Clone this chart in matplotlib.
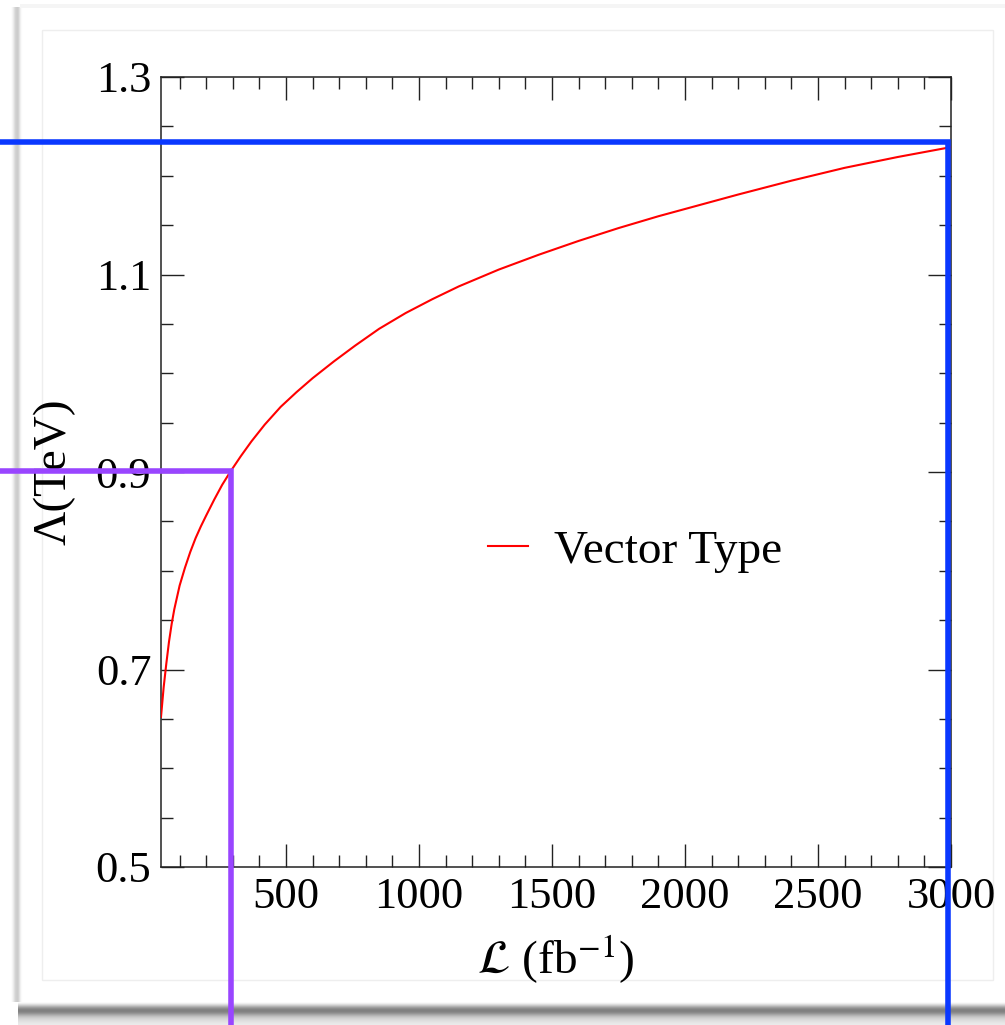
import numpy as np
import matplotlib.pyplot as plt
from matplotlib.patches import Rectangle
from matplotlib.ticker import MultipleLocator

plt.rcParams['font.family'] = ['Liberation Serif', 'DejaVu Serif']
plt.rcParams['mathtext.fontset'] = 'stix'

# curve: luminosity (fb^-1) vs reach Lambda (TeV)
lumi = [30, 35, 40, 45, 50, 60, 70, 80, 90, 100, 120, 140, 160, 180, 200,
        230, 260, 290, 330, 370, 420, 480, 540, 600, 680, 760, 850, 950,
        1050, 1150, 1300, 1450, 1600, 1750, 1900, 2050, 2200, 2400, 2600,
        2800, 3000]
lam = [0.652, 0.667, 0.682, 0.694, 0.706, 0.728, 0.746, 0.761, 0.773, 0.785,
       0.803, 0.819, 0.833, 0.845, 0.856, 0.872, 0.887, 0.900, 0.916, 0.931,
       0.948, 0.966, 0.981, 0.995, 1.012, 1.028, 1.045, 1.061, 1.075, 1.088,
       1.105, 1.120, 1.134, 1.147, 1.159, 1.170, 1.181, 1.195, 1.208, 1.219,
       1.229]

# guide lines (L, Lambda)
guide_purple = (293, 0.901)
guide_blue = (2990, 1.234)

W, H = 1005, 1025
fig = plt.figure(figsize=(W / 100, H / 100), dpi=100)

# page-like background with shadow
bg = fig.add_axes([0, 0, 1, 1], zorder=-5)
bg.set_xlim(0, W)
bg.set_ylim(H, 0)
bg.axis('off')
side = np.array([252, 245, 235, 222, 212, 206, 204, 210, 225, 240, 250, 254]) / 255.0
bg.imshow(np.tile(side[None, :], (20, 1)), cmap='gray', vmin=0, vmax=1,
          extent=(11, 23, 1002, 7), aspect='auto', zorder=1)
bg.add_patch(Rectangle((20, 4), W, 4, facecolor='#f5f5f5', edgecolor='none'))
bg.add_patch(Rectangle((42, 30), 951, 950, facecolor='none', edgecolor='#eeeeee', lw=1))
prof = np.array([250, 238, 220, 200, 178, 158, 142, 132, 128, 130, 138, 150,
                 165, 180, 192, 202, 210, 216, 221, 225, 229, 232, 234]) / 255.0
grad = np.tile(prof[:, None], (1, 50))
bg.imshow(grad, cmap='gray', vmin=0, vmax=1, extent=(18, W, 1025, 1002),
          aspect='auto', zorder=1)

ax = fig.add_axes([161 / W, 158 / H, 790 / W, 790 / H])
ax.plot(lumi, lam, color='#ff0000', lw=1.5, label='Vector Type', zorder=3)
ax.set_xlim(30, 3000)
ax.set_ylim(0.5, 1.3)

ax.xaxis.set_minor_locator(MultipleLocator(100))
ax.yaxis.set_minor_locator(MultipleLocator(0.05))
ax.set_xticks([500, 1000, 1500, 2000, 2500, 3000])
ax.set_yticks([0.5, 0.7, 0.9, 1.1, 1.3])
ax.set_yticklabels(['0.5', '0.7', '0.9', '1.1', '1.3'])
ax.tick_params(which='both', direction='in', top=True, right=True,
               labelsize=32, width=1.0, color='#222222')
ax.tick_params(which='major', length=16.5, pad=7)
ax.tick_params(which='minor', length=8.5)
for s in ax.spines.values():
    s.set_linewidth(1.1)
    s.set_color('#222222')

ax.set_xlabel(r'$\mathcal{L}$ (fb$^{-1}$)', fontsize=34)
ax.set_ylabel('Λ(TeV)', fontsize=34)
ax.xaxis.set_label_coords(0.5, -0.083)
ax.yaxis.set_label_coords(-0.108, 0.5)

ax.legend(loc='center left', bbox_to_anchor=(0.414, 0.40), frameon=False,
          fontsize=34, handlelength=0.85, handletextpad=0.55,
          borderaxespad=0, borderpad=0)

# guide lines that run out to the page edges
inv = ax.transData.inverted()
x_left, y_bottom = inv.transform(fig.transFigure.transform((0, 0)))
px, py = guide_purple
ax.plot([x_left, px, px], [py, py, y_bottom], color='#9945ff', lw=4.0,
        clip_on=False, zorder=10, solid_joinstyle='miter', solid_capstyle='butt')
bx, by = guide_blue
ax.plot([x_left, bx, bx], [by, by, y_bottom], color='#0a38ff', lw=4.0,
        clip_on=False, zorder=10, solid_joinstyle='miter', solid_capstyle='butt')

fig.savefig('out.png', dpi=100)
